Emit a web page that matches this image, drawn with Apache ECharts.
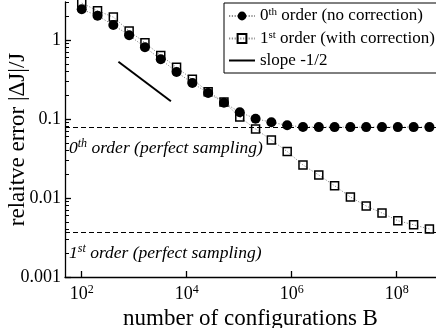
<!DOCTYPE html>
<html>
<head>
<meta charset="utf-8">
<script src="https://cdn.jsdelivr.net/npm/echarts@6/dist/echarts.min.js"></script>
<style>
html, body { margin: 0; padding: 0; background: #fff; }
#chart { width: 436px; height: 328px; }
</style>
</head>
<body>
<div id="chart"></div>
<script>
// number of configurations B (doubling each step)
const configs = [100, 200, 400, 800, 1600, 3200, 6400, 12800, 25600, 51200, 102400, 204800,
    409600, 819200, 1638400, 3276800, 6553600, 13107200, 26214400, 52428800, 104857600,
    209715200, 419430400]
// relative error, 0th order (no correction)
const zerothOrder = [2.45, 2.03, 1.55, 1.15, 0.81, 0.57, 0.394, 0.286, 0.213, 0.161, 0.122, 0.101,
    0.0908, 0.0832, 0.0792, 0.079, 0.079, 0.079, 0.079, 0.079, 0.079, 0.079, 0.079]
// relative error, 1st order (with correction)
const firstOrder = [2.94, 2.35, 1.95, 1.30, 0.925, 0.637, 0.451, 0.318, 0.222, 0.164, 0.106, 0.0747,
    0.0542, 0.0388, 0.0262, 0.0195, 0.0143, 0.0103, 0.00792, 0.00646, 0.00516, 0.00458, 0.00405]
// guide line with slope -1/2
const slopeX = [500, 5000]
const slopeY = [0.53, 0.168]
// perfect sampling limits
const perfectZeroth = 0.079
const perfectFirst = 0.0037

const xTickValues = [1e2, 1e4, 1e6, 1e8]
const xTickExps = ['2', '4', '6', '8']
const yTickValues = [0.001, 0.01, 0.1, 1]
const yTickLabels = ['0.001', '0.01', '0.1', '1']
const xRange = [48, 5.6e8]
const yRange = [0.001, 3.03]

const lg = Math.log10
const serif = '"Liberation Serif", "DejaVu Serif", serif'

// minor ticks 2..9 of every decade
const yMinor = []
for (let e = -3; e <= 0; e++) {
    for (let k = 2; k <= 9; k++) {
        const v = k * Math.pow(10, e)
        if (v < yRange[1]) yMinor.push(lg(v))
    }
}

const toPts = (xs, ys) => xs.map((x, i) => [lg(x), lg(ys[i])])
const supText = (name) => {
    const m = name.match(/^(\d)(th|st)(.*)$/)
    return m ? '{t|' + m[1] + '}{s|' + m[2] + '}{t|' + m[3] + '}' : '{t|' + name + '}'
}

const chart = echarts.init(document.getElementById('chart'))
const dotted = { color: '#8a8a8a', width: 1, type: [1.2, 1.6] }
const axisLineStyle = { color: '#000', width: 1.3 }

const option = {
    animation: false,
    textStyle: { fontFamily: serif, color: '#000' },
    grid: { left: 65, right: 0, top: 2, bottom: 51, outerBoundsMode: 'none', containLabel: false },
    legend: {
        orient: 'vertical',
        left: 224,
        top: 3,
        padding: [4, 3, 4, 4],
        itemGap: 5,
        itemWidth: 26,
        itemHeight: 11,
        backgroundColor: '#fff',
        borderColor: '#000',
        borderWidth: 1,
        data: ['0th order (no correction)', '1st order (with correction)',
            { name: 'slope -1/2', itemStyle: { opacity: 0 } }],
        formatter: supText,
        textStyle: {
            fontFamily: serif, fontSize: 17, color: '#000',
            rich: {
                t: { fontFamily: serif, fontSize: 17, lineHeight: 18, color: '#000' },
                s: { fontFamily: serif, fontSize: 11, lineHeight: 10, verticalAlign: 'top', color: '#000' }
            }
        }
    },
    xAxis: {
        type: 'value',
        min: lg(xRange[0]),
        max: lg(xRange[1]),
        name: 'number of configurations B',
        nameLocation: 'middle',
        nameGap: 27,
        nameTextStyle: { fontFamily: serif, fontSize: 23, color: '#000' },
        axisLine: { onZero: false, lineStyle: axisLineStyle },
        axisTick: { inside: true, length: 6, customValues: xTickValues.map(lg), lineStyle: axisLineStyle },
        axisLabel: {
            customValues: xTickValues.map(lg),
            margin: 7,
            formatter: (v) => {
                const i = xTickValues.findIndex(t => Math.abs(lg(t) - v) < 1e-6)
                return '{b|10}{s|' + xTickExps[i] + '}'
            },
            rich: {
                b: { fontFamily: serif, fontSize: 18, lineHeight: 20, color: '#000' },
                s: { fontFamily: serif, fontSize: 12, lineHeight: 12, verticalAlign: 'top', color: '#000' }
            }
        },
        splitLine: { show: false }
    },
    yAxis: [
        {
            type: 'value',
            min: lg(yRange[0]),
            max: lg(yRange[1]),
            name: 'relaitve error |ΔJ|/J',
            nameLocation: 'middle',
            nameGap: 36,
            nameMoveOverlap: false,
            nameTextStyle: { fontFamily: serif, fontSize: 23, color: '#000' },
            axisLine: { onZero: false, lineStyle: axisLineStyle },
            axisTick: { inside: true, length: 6, customValues: yTickValues.map(lg), lineStyle: axisLineStyle },
            axisLabel: {
                customValues: yTickValues.map(lg),
                margin: 4,
                fontFamily: serif,
                fontSize: 18,
                color: '#000',
                formatter: (v) => {
                    const i = yTickValues.findIndex(t => Math.abs(lg(t) - v) < 1e-6)
                    return yTickLabels[i]
                }
            },
            splitLine: { show: false }
        },
        {
            // minor ticks only
            type: 'value',
            position: 'left',
            min: lg(yRange[0]),
            max: lg(yRange[1]),
            axisLine: { show: false, onZero: false },
            axisTick: { inside: true, length: 4, customValues: yMinor, lineStyle: { color: '#000', width: 1 } },
            axisLabel: { show: false },
            splitLine: { show: false }
        }
    ],
    series: [
        {
            name: 'perfect sampling',
            type: 'line',
            data: [],
            z: 1,
            markLine: {
                silent: true,
                symbol: ['none', 'none'],
                lineStyle: { color: '#000', width: 1.2, type: [5, 3] },
                label: {
                    position: 'insideStartBottom',
                    distance: [4, 11],
                    rich: {
                        t: { fontFamily: serif, fontStyle: 'italic', fontSize: 17.5, lineHeight: 20, color: '#000' },
                        s: { fontFamily: serif, fontStyle: 'italic', fontSize: 12, lineHeight: 12, verticalAlign: 'top', color: '#000' }
                    }
                },
                data: [
                    { yAxis: lg(perfectZeroth), label: { formatter: supText('0th order (perfect sampling)') } },
                    { yAxis: lg(perfectFirst), label: { formatter: supText('1st order (perfect sampling)') } }
                ]
            }
        },
        {
            name: '1st order (with correction)',
            type: 'line',
            z: 3,
            data: toPts(configs, firstOrder),
            symbol: 'rect',
            symbolSize: 8,
            itemStyle: { color: 'rgba(255,255,255,0)', borderColor: '#000', borderWidth: 1.5 },
            lineStyle: dotted
        },
        {
            name: '0th order (no correction)',
            type: 'line',
            z: 4,
            data: toPts(configs, zerothOrder),
            symbol: 'circle',
            symbolSize: 10,
            itemStyle: { color: '#000' },
            lineStyle: dotted
        },
        {
            name: 'slope -1/2',
            type: 'line',
            z: 4,
            data: toPts(slopeX, slopeY),
            symbol: 'none',
            itemStyle: { color: '#000' },
            lineStyle: { color: '#000', width: 2 }
        }
    ]
}
chart.setOption(option)
</script>
</body>
</html>
